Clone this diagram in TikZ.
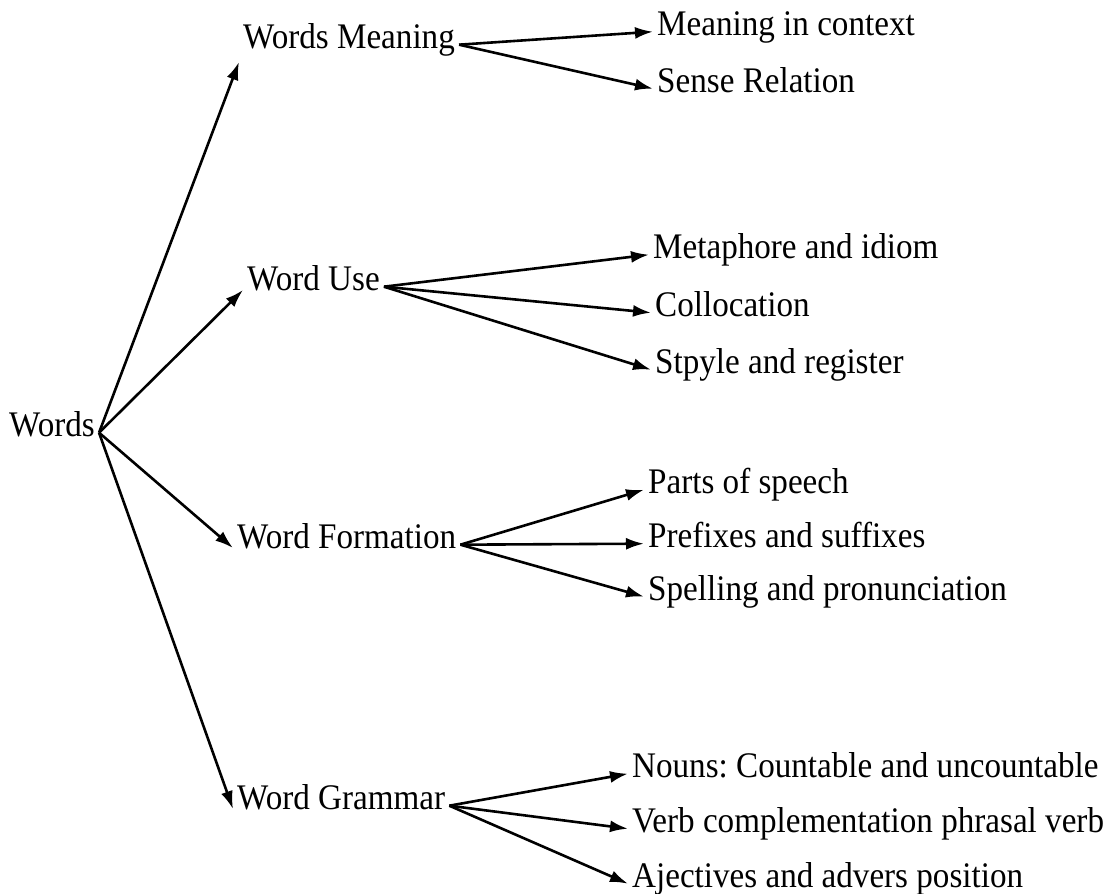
\documentclass[tikz,border=0pt]{standalone}
\usepackage{fontspec}
\setmainfont[FakeStretch=0.92]{Liberation Serif}
\usetikzlibrary{arrows.meta}
\frenchspacing
\begin{document}
\begin{tikzpicture}[x=1pt,y=-1pt,font=\fontsize{36}{40}\selectfont,
  word/.style={anchor=base west,inner xsep=4pt,inner ysep=0pt,text height=0.662em,text depth=0pt},
  arr/.style={-{Latex[length=18pt,width=12pt]},line width=2.6pt}]
\useasboundingbox (0,0) rectangle (1114,894);
% root and the four branches
\node[word] (w) at (5,436) {Words};
\node[word] (wm) at (239,48) {Words Meaning};
\node[word] (wu) at (243,290) {Word Use};
\node[word] (wf) at (233,548) {Word Formation};
\node[word] (wg) at (233,809) {Word Grammar};
% leaves
\node[word] (mc) at (653,35) {Meaning in context};
\node[word] (sr) at (653,92) {Sense Relation};
\node[word] (mi) at (649,258) {Metaphore and idiom};
\node[word] (co) at (651,316) {Collocation};
\node[word] (sy) at (651,373) {Stpyle and register};
\node[word] (ps) at (644,493) {Parts of speech};
\node[word] (pf) at (644,547) {Prefixes and suffixes};
\node[word] (sp) at (644,600) {Spelling and pronunciation};
\node[word] (nc) at (628,777) {Nouns: Countable and uncountable};
\node[word] (vc) at (628,832) {Verb complementation phrasal verb};
\node[word] (aa) at (628,887) {Ajectives and advers position};
% edit here for the arrows
\draw[arr] (w.east) -- ([yshift=-14pt]wm.base west);
\foreach \b in {wu,wf,wg}
\draw[arr] (w.east) -- (\b.base west);
\foreach \a/\b in {wm/mc,wm/sr,wu/mi,wu/co,wu/sy,wf/ps,wf/pf,wf/sp,wg/nc,wg/vc,wg/aa}
\draw[arr] (\a.east) -- (\b.west);
\end{tikzpicture}
\end{document}
